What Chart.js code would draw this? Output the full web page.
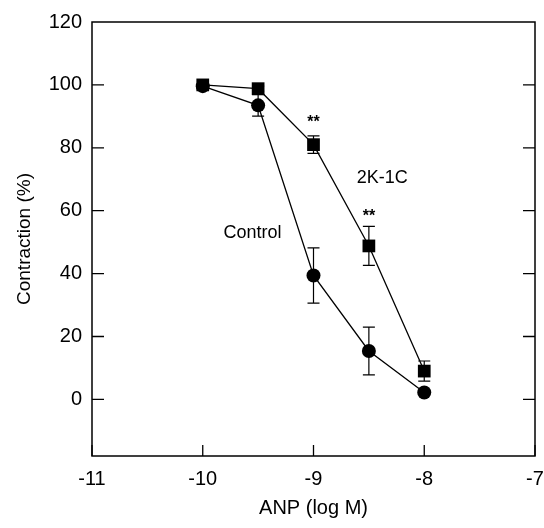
<!DOCTYPE html>
<html>
<head>
<meta charset="utf-8">
<script src="https://cdn.jsdelivr.net/npm/chart.js@4/dist/chart.umd.min.js"></script>
<style>
  html, body { margin: 0; padding: 0; background: #fff; }
  #wrap { width: 544px; height: 528px; }
</style>
</head>
<body>
<div id="wrap"><canvas id="myChart" width="544" height="528"></canvas></div>
<script>
// dose (log M)
const doses = [-10, -9.5, -9, -8.5, -8]

// 2K-1C rats, squares
const kidneyMean = [100, 98.8, 81, 48.8, 9]
const kidneyErr = [0, 0.8, 2.8, 6.2, 3.2]

// control rats, circles
const controlMean = [99.6, 93.5, 39.4, 15.4, 2.2]
const controlErr = [0, 3.4, 8.8, 7.6, 0]

const xTicks = [-11, -10, -9, -8, -7]
const yTicks = [0, 20, 40, 60, 80, 100, 120]

// text inside the plot, in data units
const notes = [
    {text: 'Control', x: -9.55, y: 53, size: 18},
    {text: '2K-1C', x: -8.38, y: 70.4, size: 18},
    {text: '**', x: -9, y: 88, size: 16},
    {text: '**', x: -8.5, y: 58, size: 16}
]

const FONT = "'Liberation Sans', Arial, sans-serif"

const toPoints = (ys) => doses.map((x, i) => ({x, y: ys[i]}))

// error bars, frame, inward ticks and the labels
const extras = {
    id: 'extras',
    beforeDatasetsDraw(chart) {
        const {ctx, chartArea: a, scales: {x, y}} = chart
        ctx.save()
        ctx.strokeStyle = '#000'
        ctx.lineWidth = 1.5
        ctx.strokeRect(a.left, a.top, a.right - a.left, a.bottom - a.top)
        ctx.lineWidth = 1.3
        ctx.beginPath()
        yTicks.forEach(v => {
            if (v === 120) return
            const py = y.getPixelForValue(v)
            ctx.moveTo(a.left, py); ctx.lineTo(a.left + 12, py)
            ctx.moveTo(a.right, py); ctx.lineTo(a.right - 12, py)
        })
        xTicks.forEach(v => {
            const px = x.getPixelForValue(v)
            ctx.moveTo(px, a.bottom); ctx.lineTo(px, a.bottom - 11)
        })
        ctx.stroke()

        // error bars
        const bars = [[kidneyMean, kidneyErr], [controlMean, controlErr]]
        ctx.lineWidth = 1.2
        bars.forEach(([m, e]) => {
            doses.forEach((d, i) => {
                if (!e[i]) return
                const px = x.getPixelForValue(d)
                const hi = y.getPixelForValue(m[i] + e[i])
                const lo = y.getPixelForValue(m[i] - e[i])
                ctx.beginPath()
                ctx.moveTo(px, hi); ctx.lineTo(px, lo)
                ctx.moveTo(px - 6, hi); ctx.lineTo(px + 6, hi)
                ctx.moveTo(px - 6, lo); ctx.lineTo(px + 6, lo)
                ctx.stroke()
            })
        })
        ctx.restore()
    },
    afterDatasetsDraw(chart) {
        const {ctx, scales: {x, y}} = chart
        ctx.save()
        ctx.fillStyle = '#000'
        ctx.textAlign = 'center'
        ctx.textBaseline = 'middle'
        notes.forEach(n => {
            ctx.font = (n.text === '**' ? 'bold ' : '') + n.size + 'px ' + FONT
            ctx.fillText(n.text, x.getPixelForValue(n.x), y.getPixelForValue(n.y))
        })
        ctx.restore()
    }
}

const canvas = document.getElementById('myChart')

const config = {
    type: 'scatter',
    data: {
        datasets: [{
            label: '2K-1C',
            data: toPoints(kidneyMean),
            showLine: true,
            borderColor: '#000',
            borderWidth: 1.3,
            backgroundColor: '#000',
            pointStyle: 'rect',
            pointRadius: 9,
            pointBorderWidth: 0
        }, {
            label: 'Control',
            data: toPoints(controlMean),
            showLine: true,
            borderColor: '#000',
            borderWidth: 1.3,
            backgroundColor: '#000',
            pointStyle: 'circle',
            pointRadius: 7,
            pointBorderWidth: 0
        }]
    },
    options: {
        responsive: false,
        animation: false,
        layout: {padding: {top: 15, right: 0, left: 0, bottom: 0}},
        plugins: {
            legend: {display: false},
            tooltip: {enabled: false}
        },
        scales: {
            x: {
                type: 'linear',
                min: -11,
                max: -7,
                afterBuildTicks: (s) => { s.ticks = xTicks.map(value => ({value})) },
                afterFit: (s) => { s.height = 72; s.paddingRight = 9; s.paddingLeft = 0 },
                grid: {display: false, drawTicks: false},
                border: {display: false},
                ticks: {color: '#000', font: {family: FONT, size: 20}, padding: 11, maxRotation: 0},
                title: {display: true, text: 'ANP (log M)', color: '#000',
                        font: {family: FONT, size: 20}, padding: {top: 6, bottom: 8}}
            },
            y: {
                type: 'linear',
                min: -18,
                max: 120,
                afterBuildTicks: (s) => { s.ticks = yTicks.map(value => ({value})) },
                afterFit: (s) => { s.width = 92 },
                grid: {display: false, drawTicks: false},
                border: {display: false},
                ticks: {color: '#000', font: {family: FONT, size: 20}, padding: 10},
                title: {display: true, text: 'Contraction (%)', color: '#000',
                        font: {family: FONT, size: 19}, padding: {top: 13, bottom: 0}}
            }
        }
    },
    plugins: [extras]
}

new Chart(canvas, config)
</script>
</body>
</html>
